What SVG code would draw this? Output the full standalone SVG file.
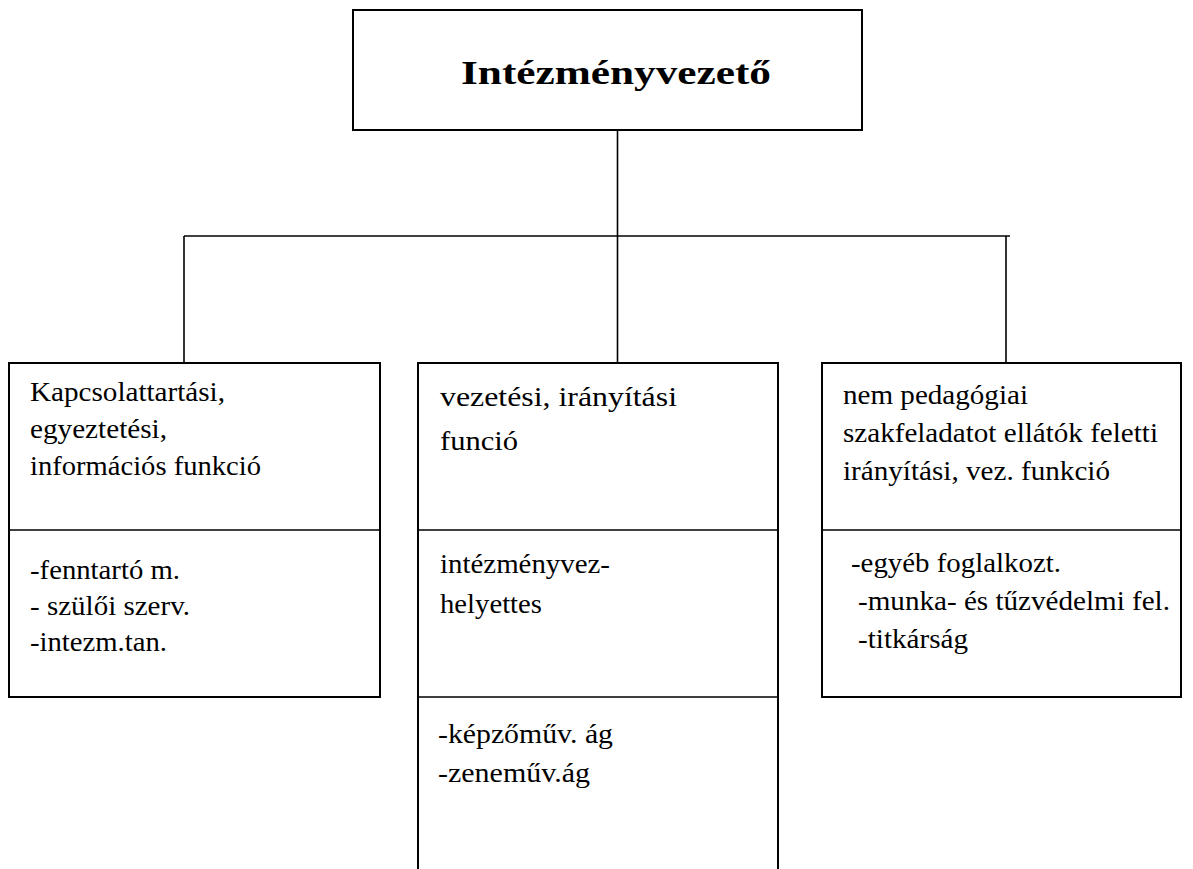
<svg xmlns="http://www.w3.org/2000/svg" width="1193" height="869" viewBox="0 0 1193 869">
<style>
.box{fill:#fff;stroke:#000;stroke-width:2}
.ln{fill:none;stroke:#000;stroke-width:1.6}
text{font-family:"Liberation Serif","Times New Roman",serif;font-size:28px;fill:#000}
.t{font-weight:bold;font-size:34px}
</style>
<rect width="1193" height="869" fill="#fff"/>
<g id="connectors">
<line class="ln" x1="617.5" y1="130" x2="617.5" y2="363"/>
<line class="ln" x1="184" y1="236" x2="1010" y2="236"/>
<line class="ln" x1="184" y1="236" x2="184" y2="363"/>
<line class="ln" x1="1006" y1="236" x2="1006" y2="363"/>
</g>
<g id="top">
<rect class="box" x="353" y="10" width="509" height="120"/>
<text class="t" x="461" y="84" textLength="310" lengthAdjust="spacingAndGlyphs">Intézményvezető</text>
</g>
<g id="left">
<rect class="box" x="9" y="363" width="371" height="334"/>
<line class="ln" x1="9" y1="530" x2="380" y2="530"/>
<text x="30" y="401" textLength="195" lengthAdjust="spacingAndGlyphs">Kapcsolattartási,</text>
<text x="30" y="438" textLength="137" lengthAdjust="spacingAndGlyphs">egyeztetési,</text>
<text x="30" y="475" textLength="231" lengthAdjust="spacingAndGlyphs">információs funkció</text>
<text x="30" y="579" textLength="150" lengthAdjust="spacingAndGlyphs">-fenntartó m.</text>
<text x="30" y="615" textLength="160" lengthAdjust="spacingAndGlyphs">- szülői szerv.</text>
<text x="30" y="651" textLength="137" lengthAdjust="spacingAndGlyphs">-intezm.tan.</text>
</g>
<g id="middle">
<path class="box" d="M418 880 V363 H778 V880"/>
<line class="ln" x1="418" y1="530" x2="778" y2="530"/>
<line class="ln" x1="418" y1="697" x2="778" y2="697"/>
<text x="440" y="406" textLength="237" lengthAdjust="spacingAndGlyphs">vezetési, irányítási</text>
<text x="440" y="450" textLength="78" lengthAdjust="spacingAndGlyphs">funció</text>
<text x="440" y="573" textLength="170" lengthAdjust="spacingAndGlyphs">intézményvez-</text>
<text x="440" y="613" textLength="102" lengthAdjust="spacingAndGlyphs">helyettes</text>
<text x="438" y="743" textLength="175" lengthAdjust="spacingAndGlyphs">-képzőműv. ág</text>
<text x="438" y="782" textLength="152" lengthAdjust="spacingAndGlyphs">-zeneműv.ág</text>
</g>
<g id="right">
<rect class="box" x="822" y="363" width="359" height="334"/>
<line class="ln" x1="822" y1="530" x2="1181" y2="530"/>
<text x="843" y="404" textLength="185" lengthAdjust="spacingAndGlyphs">nem pedagógiai</text>
<text x="843" y="442" textLength="315" lengthAdjust="spacingAndGlyphs">szakfeladatot ellátók feletti</text>
<text x="843" y="480" textLength="267" lengthAdjust="spacingAndGlyphs">irányítási, vez. funkció</text>
<text x="851" y="572" textLength="210" lengthAdjust="spacingAndGlyphs">-egyéb foglalkozt.</text>
<text x="858" y="610" textLength="312" lengthAdjust="spacingAndGlyphs">-munka- és tűzvédelmi fel.</text>
<text x="858" y="648" textLength="110" lengthAdjust="spacingAndGlyphs">-titkárság</text>
</g>
</svg>
